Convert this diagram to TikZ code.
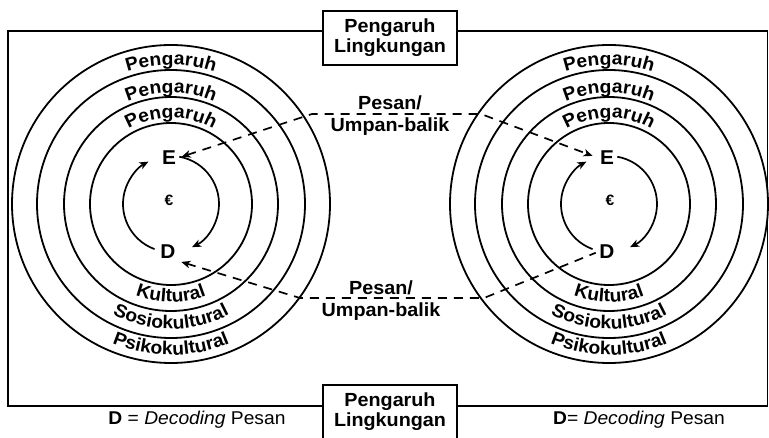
\documentclass[tikz,border=0pt]{standalone}
\usepackage{fontspec}
\setmainfont[FakeStretch=1.04]{Liberation Sans}
\usetikzlibrary{arrows.meta,positioning,calc,decorations.text}

\newcommand\ringfont{\bfseries\fontsize{18.5}{20}\selectfont}

\begin{document}
\begin{tikzpicture}[x=1pt,y=1pt,>={Stealth[length=9pt,width=7.5pt,inset=2.5pt]},line width=1.8pt,
    envbox/.style={draw,align=center,minimum width=134pt,minimum height=54pt,
      inner sep=0pt,font=\bfseries\fontsize{19}{20}\selectfont},
    letter/.style={font=\bfseries\fontsize{20}{20}\selectfont,inner sep=1pt},
    euro/.style={font=\bfseries\fontsize{15}{15}\selectfont,inner sep=0pt},
    msglabel/.style={align=center,font=\bfseries\fontsize{19}{22}\selectfont},
    keylabel/.style={font=\fontsize{18.5}{20}\selectfont},
    ring/.style={line width=1.8pt},
    cycle/.style={->,line width=1.7pt},
    msg/.style={dash pattern=on 9pt off 7pt,line width=1.7pt},
    ringtext/.style={decorate,decoration={text along path,text align=center,
      text={|\ringfont|#1}}}]
  \useasboundingbox (0,0) rectangle (769,437);
  \clip (0,0) rectangle (769,437);

  % the two persons
  \coordinate (lc) at (171,233);
  \coordinate (rc) at (609,233);
  \foreach \r in {159,134,107,81}
    \draw[ring] (lc) circle[radius=\r] (rc) circle[radius=\r];

  % environment boxes and frame
  \node[envbox] (envTop) at (390,399) {Pengaruh\\Lingkungan};
  \node[envbox] (envBot) at (390,25) {Pengaruh\\Lingkungan};
  \coordinate (ftl) at (8,406);
  \coordinate (ftr) at (767.5,406);
  \coordinate (fbl) at (8,31);
  \coordinate (fbr) at (767.5,31);
  \draw (envTop.west |- ftl) -- (ftl) -- (fbl) -- (envBot.west |- fbl);
  \draw (envTop.east |- ftr) -- (ftr) -- (fbr) -- (envBot.east |- fbr);

  % encoding / decoding
  \node[letter] (lE) at (169,279) {E};
  \node[letter] (lD) at (168,185) {D};
  \node[letter] (rE) at (607,279) {E};
  \node[letter] (rD) at (607,185) {D};
  \node[euro] (lEuro) at (169,237) {€};
  \node[euro] (rEuro) at (610,237) {€};
  \foreach \c in {lc,rc} {
    \draw[cycle] ($(\c)+(250:48)$) arc[start angle=250,end angle=118,radius=48];
    \draw[cycle] ($(\c)+(80:48)$) arc[start angle=80,end angle=-64,radius=48];
  }

  % ring labels
  \foreach \c in {lc,rc} {
    \path[ringtext=Pengaruh] ($(\c)+(140:139)$) arc[start angle=140,end angle=40,radius=139];
    \path[ringtext=Pengaruh] ($(\c)+(140:111)$) arc[start angle=140,end angle=40,radius=111];
    \path[ringtext=Pengaruh] ($(\c)+(140:86)$) arc[start angle=140,end angle=40,radius=86];
    \path[ringtext=Kultural] ($(\c)+(220:98)$) arc[start angle=220,end angle=320,radius=98];
    \path[ringtext=Sosiokultural] ($(\c)+(220:125)$) arc[start angle=220,end angle=320,radius=125];
    \path[ringtext=Psikokultural] ($(\c)+(220:151)$) arc[start angle=220,end angle=320,radius=151];
  }

  % messages
  \coordinate (tm1) at (312,323);
  \coordinate (tm2) at (481,323);
  \coordinate (bm1) at (300,139);
  \coordinate (bm2) at (484,139);
  \draw[msg,<->,shorten <=4pt,shorten >=6pt] (lE.east) -- (tm1) -- (tm2) -- (rE.west);
  \draw[msg,<-,shorten <=4pt,shorten >=2pt] (lD.south east) -- (bm1) -- (bm2) -- (rD.west);
  \node[msglabel] (msgTop) at (390,321) {Pesan/\\Umpan-balik};
  \node[msglabel] (msgBot) at (381,136) {Pesan/\\Umpan-balik};

  % keys
  \node[keylabel] (keyL) at (197,17) {\textbf{D} = \textit{Decoding} Pesan};
  \node[keylabel] (keyR) at (639,17) {\textbf{D}= \textit{Decoding} Pesan};
\end{tikzpicture}
\end{document}
